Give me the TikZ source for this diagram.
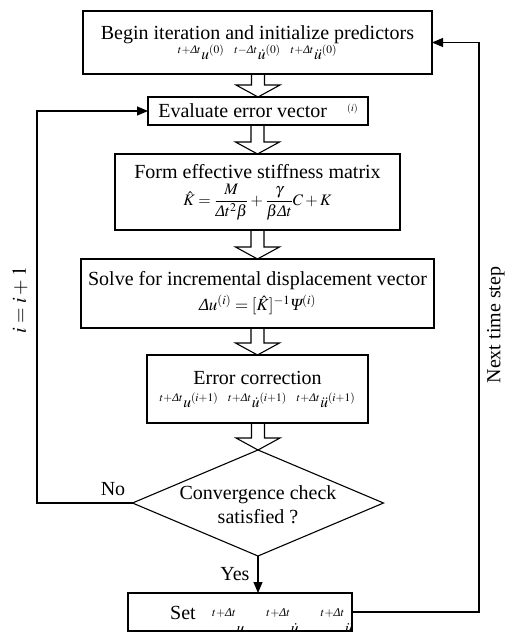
\documentclass[tikz,border=0pt]{standalone}
\usepackage{amsmath}
\usepackage{mathptmx}
\usepackage[no-math]{fontspec}
\setmainfont{Liberation Serif}
\usetikzlibrary{arrows.meta,shapes.geometric,calc}

% italic capital Greek taken from the text font
\newcommand\Dlt{\text{\itshape Δ}}
\newcommand\Psy{\text{\itshape Ψ}}

% hollow block arrow from the bottom of #1 to the top of #2
\newcommand\blockarrow[2]{%
  \draw[blockline]
    ($(#1.south -| #2.north)+(-6.5,0)$) --
    ($(#2.north)+(-6.5,-12)$) -- ($(#2.north)+(-22,-12)$) --
    (#2.north) --
    ($(#2.north)+(22,-12)$) -- ($(#2.north)+(6.5,-12)$) --
    ($(#1.south -| #2.north)+(6.5,0)$);}

\begin{document}
\begin{tikzpicture}[x=1pt,y=-1pt,
  font=\fontsize{20}{24}\selectfont,
  box/.style={draw,line width=1.1pt,inner sep=0pt,outer sep=0pt},
  flow/.style={line width=1.1pt,-{Triangle[length=11pt,width=9pt]}},
  blockline/.style={line width=1.1pt,line join=miter},
  mth/.style={font=\fontsize{16}{19}\selectfont},
  lbl/.style={inner sep=0pt}]
\useasboundingbox (0,0) rectangle (505,632);

% process boxes
\node[box,minimum width=349pt,minimum height=63pt,align=center] (init) at (257.5,42.5)
  {Begin iteration and initialize predictors\\[-4pt]
   {\fontsize{15.5}{19}\selectfont $ {}^{t+\Dlt t}u^{(0)}\hspace{10pt} {}^{t-\Dlt t}\dot u^{(0)}\hspace{10pt} {}^{t+\Dlt t}\ddot u^{(0)}$}};

\node[box,minimum width=220pt,minimum height=28pt] (eval) at (258,111)
  {Evaluate error vector\hspace{20pt}\raisebox{6pt}{\fontsize{10}{12}\selectfont$(i)$}};

\node[box,minimum width=285pt,minimum height=76pt,align=center] (form) at (257.5,192)
  {Form effective stiffness matrix\\[3pt]
   {\fontsize{16}{19}\selectfont $\displaystyle \hat K=\frac{M}{\Dlt t^2\beta}+\frac{\gamma}{\beta\Dlt t}C+K$}};

\node[box,minimum width=353pt,minimum height=69pt,align=center] (solve) at (257.5,293.5)
  {Solve for incremental displacement vector\\[1pt]
   {\fontsize{17}{20}\selectfont $\Dlt u^{(i)}=[\hat K]^{-1}\Psy^{(i)}$}};

\node[box,minimum width=221pt,minimum height=68pt,align=center] (corr) at (257.5,389)
  {Error correction\\[-1pt]
   {\fontsize{15.5}{19}\selectfont $ {}^{t+\Dlt t}u^{(i+1)}\hspace{10pt} {}^{t+\Dlt t}\dot u^{(i+1)}\hspace{10pt} {}^{t+\Dlt t}\ddot u^{(i+1)}$}};

% decision
\node[diamond,draw,line width=1.1pt,minimum width=251pt,minimum height=106pt,
      inner sep=0pt,outer sep=0pt] (chk) at (258,503) {};
\node[align=center,lbl] (chktext) at (258,505) {Convergence check\\satisfied ?};

% final update box
\node[box,minimum width=224pt,minimum height=38pt] (set) at (240,612) {};
\node[anchor=base west,lbl] (settext) at (170,619) {Set};
\node[anchor=base west,lbl,mth] (setvals) at (212,633)
  {\raisebox{11pt}{$^{t+\Dlt t}$}$u$\hspace{22pt}%
   \raisebox{11pt}{$^{t+\Dlt t}$}$\dot u$\hspace{22pt}%
   \raisebox{11pt}{$^{t+\Dlt t}$}$\ddot u$};

% hollow arrows down the main chain
\blockarrow{init}{eval}
\blockarrow{eval}{form}
\blockarrow{form}{solve}
\blockarrow{solve}{corr}
\blockarrow{corr}{chk}

% yes branch
\draw[flow] (chk.south) -- (chk.south |- set.north)
  node[midway,left=8pt,lbl] (yes) {Yes};

% iteration loop (no branch)
\coordinate (lc) at (37,0);
\draw[flow] (chk.west) -- (chk.west -| lc) -- (eval.west -| lc) -- (eval.west);
\node[lbl] (no) at (113,489) {No};
\node[rotate=90,lbl] (incr) at (20,300) {$i=i+1$};

% time step loop
\coordinate (rc) at (479,0);
\draw[flow] (set.east) -- (set.east -| rc) -- (init.east -| rc) -- (init.east);
\node[rotate=90,lbl] (next) at (496,325) {Next time step};
\end{tikzpicture}
\end{document}
